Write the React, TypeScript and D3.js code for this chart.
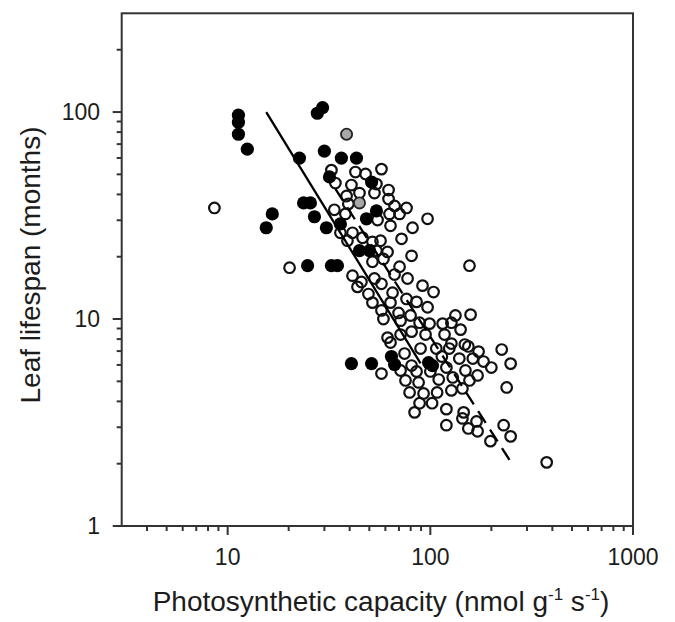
import React from "react";
import * as d3 from "d3";

// Filled (black) points: [photosynthetic capacity, leaf lifespan]
const FILLED: [number, number][] = [
  [11.3, 96.6], [11.3, 89.3], [11.3, 78.1], [12.5, 66.2],
  [27.7, 98.7], [29.4, 105], [22.6, 59.9], [30.0, 64.7], [36.4, 59.9], [43.2, 59.9],
  [31.8, 48.6], [51.3, 45.9], [23.7, 36.4], [25.6, 36.4], [16.6, 32.2], [26.8, 31.2],
  [15.5, 27.6], [30.7, 27.6], [36.0, 28.8], [48.4, 30.5], [54.2, 33.3],
  [44.7, 21.4], [50.1, 21.4], [24.8, 18.1], [32.5, 18.1], [34.8, 18.1],
  [40.8, 6.09], [51.3, 6.09], [64.3, 6.59], [66.6, 6.03], [98.0, 6.16], [102.5, 5.96],
];

// Grey-filled points
const GREY: [number, number][] = [
  [38.6, 78.1], [44.7, 36.4],
];

// Open points
const OPEN: [number, number][] = [
  [8.6, 34.4], [20.2, 17.7], [375, 2.03], [156, 18.1], [96.9, 30.5],
  [32.5, 52.4], [42.7, 51.3], [47.9, 50.2], [57.4, 53.0], [34.0, 45.4], [40.8, 44.4],
  [54.2, 44.9], [62.2, 42.0], [53.0, 40.6], [44.7, 40.6], [38.6, 39.3], [62.2, 38.0],
  [33.6, 33.7], [39.4, 36.0], [38.1, 32.2], [66.6, 35.2], [76.3, 34.4], [70.5, 32.2],
  [62.9, 32.2], [54.9, 30.1], [81.7, 27.6], [63.6, 28.2], [36.0, 26.1], [41.3, 26.1],
  [39.0, 23.9], [46.3, 24.7], [51.8, 23.6], [56.8, 23.9], [72.1, 24.4], [61.5, 21.1],
  [54.2, 21.4], [80.8, 20.2], [58.7, 19.5], [51.8, 18.9], [70.5, 17.9], [41.3, 16.2],
  [45.7, 15.1], [53.0, 15.7], [57.4, 14.8], [66.6, 16.4], [77.2, 15.7], [91.5, 14.5],
  [103.7, 13.5], [43.7, 14.3], [49.5, 13.2], [65.1, 13.4], [76.3, 12.5], [85.5, 12.1],
  [96.9, 11.4], [51.8, 12.0], [63.6, 12.0], [57.4, 11.0], [69.7, 10.7], [79.9, 10.4],
  [133, 10.4], [158, 10.5], [58.7, 10.0], [71.3, 9.82], [88.5, 9.6], [99.1, 9.5],
  [115, 9.5], [127, 9.6], [141, 8.89], [61.5, 8.13], [71.3, 8.41], [80.8, 8.69],
  [94.7, 8.41], [117.5, 8.41], [63.6, 7.7], [127, 7.61], [148, 7.53], [89.5, 7.2],
  [107, 7.2], [124, 7.2], [154, 7.37], [173, 6.96], [225, 7.12], [74.6, 6.81],
  [114, 6.59], [139, 6.44], [162, 6.44], [183, 6.23], [200, 5.83], [249, 6.09],
  [71.3, 5.64], [80.8, 5.96], [120, 5.83], [57.4, 5.45], [85.5, 5.58], [100, 5.58],
  [149, 5.64], [171, 5.34], [75.4, 5.05], [87.5, 4.94], [110, 5.1], [129, 5.22],
  [156, 5.05], [238, 4.67], [79.0, 4.42], [92.6, 4.37], [108, 4.42], [127, 4.52],
  [144, 4.62], [88.5, 3.92], [102, 3.92], [120, 3.67], [83.6, 3.54], [146, 3.54],
  [144, 3.31], [169, 3.2], [120, 3.07], [154, 2.96], [171, 2.87], [230, 3.07],
  [249, 2.71], [198, 2.57],
];

// Regression lines (endpoints)
const SOLID_FIT: [number, number][] = [[15.5, 100], [89.5, 6.1]];
const DASHED_FIT: [number, number][] = [[34.0, 42.5], [252, 2.01]];

const X_TICKS = [10, 100, 1000];
const Y_TICKS = [1, 10, 100];
const X_TITLE = "Photosynthetic capacity (nmol g";
const Y_TITLE = "Leaf lifespan (months)";

const X_DOMAIN: [number, number] = [3, 1000];
const Y_DOMAIN: [number, number] = [1, 300];

export default function App() {
  const W = 675, H = 622;
  const left = 121.7, right = 633, top = 13.3, bottom = 526;
  const x = d3.scaleLog().domain(X_DOMAIN).range([left, right]);
  const y = d3.scaleLog().domain(Y_DOMAIN).range([bottom, top]);

  const minorX: number[] = [];
  [1, 10, 100].forEach((dec) => {
    for (let k = 2; k <= 9; k++) {
      const v = k * dec;
      if (v > X_DOMAIN[0] && v < X_DOMAIN[1]) minorX.push(v);
    }
  });
  const minorY: number[] = [];
  [1, 10, 100].forEach((dec) => {
    for (let k = 2; k <= 9; k++) {
      const v = k * dec;
      if (v > Y_DOMAIN[0] && v < Y_DOMAIN[1]) minorY.push(v);
    }
  });

  const line = d3
    .line<[number, number]>()
    .x((d) => x(d[0]))
    .y((d) => y(d[1]));

  const font = "'Liberation Sans', Arial, Helvetica, sans-serif";
  const axisColor = "#333";
  const textColor = "#1c1c1c";

  return (
    <svg
      width={W}
      height={H}
      style={{ position: "absolute", left: 0, top: 0, background: "#fff" }}
    >
      <rect x={0} y={0} width={W} height={H} fill="#fff" />
      {/* open points */}
      <g>
        {OPEN.map((d, i) => (
          <circle
            key={"o" + i}
            cx={x(d[0])}
            cy={y(d[1])}
            r={5.3}
            fill="none"
            stroke="#111"
            strokeWidth={2.2}
          />
        ))}
      </g>
      {/* grey points */}
      <g>
        {GREY.map((d, i) => (
          <circle
            key={"g" + i}
            cx={x(d[0])}
            cy={y(d[1])}
            r={5.6}
            fill="#a8a8a8"
            stroke="#222"
            strokeWidth={1.8}
          />
        ))}
      </g>
      {/* filled points */}
      <g>
        {FILLED.map((d, i) => (
          <circle key={"f" + i} cx={x(d[0])} cy={y(d[1])} r={6.6} fill="#000" />
        ))}
      </g>
      {/* regression lines */}
      <path d={line(SOLID_FIT) || ""} fill="none" stroke="#000" strokeWidth={2.3} />
      <path
        d={line(DASHED_FIT) || ""}
        fill="none"
        stroke="#000"
        strokeWidth={2.3}
        strokeDasharray="14 8"
      />
      {/* frame */}
      <rect
        x={left}
        y={top}
        width={right - left}
        height={bottom - top}
        fill="none"
        stroke={axisColor}
        strokeWidth={2}
      />
      {/* x ticks */}
      {X_TICKS.map((t) => (
        <g key={"xt" + t}>
          <line x1={x(t)} x2={x(t)} y1={bottom} y2={bottom + 9} stroke={axisColor} strokeWidth={2} />
          <text
            x={x(t)}
            y={565}
            textAnchor="middle"
            fontFamily={font}
            fontSize={23}
            fill={textColor}
          >
            {String(t)}
          </text>
        </g>
      ))}
      {minorX.map((t) => (
        <line key={"xm" + t} x1={x(t)} x2={x(t)} y1={bottom} y2={bottom + 5} stroke={axisColor} strokeWidth={2} />
      ))}
      {/* y ticks */}
      {Y_TICKS.map((t) => (
        <g key={"yt" + t}>
          <line x1={left - 9} x2={left} y1={y(t)} y2={y(t)} stroke={axisColor} strokeWidth={2} />
          <text
            x={100}
            y={y(t)}
            dy="0.36em"
            textAnchor="end"
            fontFamily={font}
            fontSize={23}
            fill={textColor}
          >
            {String(t)}
          </text>
        </g>
      ))}
      {minorY.map((t) => (
        <line key={"ym" + t} x1={left - 5} x2={left} y1={y(t)} y2={y(t)} stroke={axisColor} strokeWidth={2} />
      ))}
      {/* axis titles */}
      <text
        x={381}
        y={611}
        textAnchor="middle"
        fontFamily={font}
        fontSize={28}
        fill={textColor}
      >
        {X_TITLE}
        <tspan fontSize={17} dy={-11}>-1</tspan>
        <tspan fontSize={28} dy={11}> s</tspan>
        <tspan fontSize={17} dy={-11}>-1</tspan>
        <tspan fontSize={28} dy={11}>)</tspan>
      </text>
      <text
        transform={`translate(40, 265) rotate(-90)`}
        textAnchor="middle"
        fontFamily={font}
        fontSize={28}
        fill={textColor}
      >
        {Y_TITLE}
      </text>
    </svg>
  );
}
